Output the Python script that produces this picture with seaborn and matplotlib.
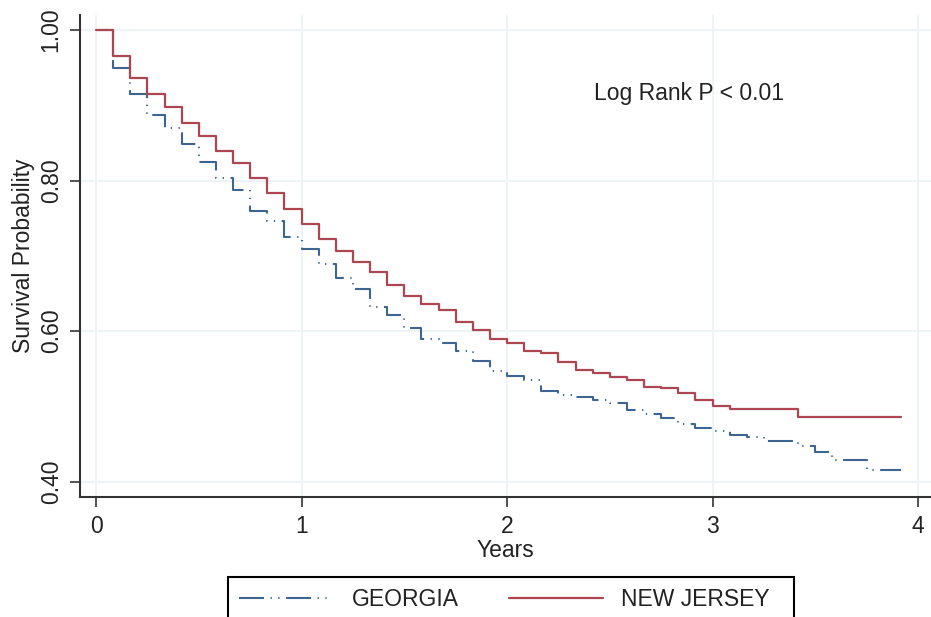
import matplotlib
matplotlib.use("Agg")
import matplotlib.pyplot as plt
import pandas as pd
import seaborn as sns

# Kaplan-Meier estimates, one value per month (0..47)
months = list(range(48))
georgia = [1.000, 0.949, 0.915, 0.887, 0.870, 0.848, 0.825, 0.804, 0.788, 0.759,
           0.746, 0.725, 0.709, 0.689, 0.670, 0.656, 0.632, 0.621, 0.604, 0.589,
           0.584, 0.573, 0.561, 0.547, 0.541, 0.535, 0.520, 0.515, 0.513, 0.508,
           0.505, 0.495, 0.490, 0.485, 0.477, 0.472, 0.467, 0.462, 0.459, 0.454,
           0.454, 0.447, 0.439, 0.429, 0.429, 0.416, 0.416, 0.416]
new_jersey = [1.000, 0.966, 0.936, 0.915, 0.898, 0.877, 0.859, 0.839, 0.823, 0.803,
              0.783, 0.762, 0.742, 0.723, 0.706, 0.692, 0.679, 0.661, 0.647, 0.636,
              0.628, 0.612, 0.602, 0.589, 0.584, 0.574, 0.571, 0.559, 0.549, 0.545,
              0.539, 0.535, 0.526, 0.524, 0.518, 0.509, 0.501, 0.497, 0.497, 0.497,
              0.497, 0.486, 0.486, 0.486, 0.486, 0.486, 0.486, 0.486]

x_ticks = [0, 1, 2, 3, 4]
y_ticks = [0.40, 0.60, 0.80, 1.00]
y_tick_labels = ['0.40', '0.60', '0.80', '1.00']
annotation = 'Log Rank P < 0.01'

BLUE = '#3c6592'
RED = '#ad4650'
INK = '#222222'

sns.set_style("white")
plt.rcParams['font.family'] = ['Liberation Sans', 'DejaVu Sans']
plt.rcParams['lines.scale_dashes'] = False
plt.rcParams['text.color'] = INK

df = pd.DataFrame({'years': [m / 12 for m in months],
                   'GEORGIA': georgia,
                   'NEW JERSEY': new_jersey})

fig = plt.figure(figsize=(9.31, 6.17), dpi=100)
ax = fig.add_axes([80 / 931, 1 - 497.3 / 617, 851 / 931, 482.3 / 617])

sns.lineplot(data=df, x='years', y='GEORGIA', ax=ax, color=BLUE, lw=1.5,
             drawstyle='steps-post', estimator=None, label='GEORGIA',
             linestyle=(0, (18, 4.7, 0.9, 4.7, 0.9, 4.7)))
sns.lineplot(data=df, x='years', y='NEW JERSEY', ax=ax, color=RED, lw=1.6,
             drawstyle='steps-post', estimator=None, label='NEW JERSEY')

ax.set_xlim(-0.078, 4.063)
ax.set_ylim(0.3793, 1.02)
ax.set_xticks(x_ticks)
ax.set_yticks(y_ticks)
ax.set_yticklabels(y_tick_labels, rotation=90, va='center')

ax.grid(True, color='#edf3f6', lw=1.3)
ax.set_axisbelow(True)
for side in ['top', 'right']:
    ax.spines[side].set_visible(False)
for side in ['left', 'bottom']:
    ax.spines[side].set_color('#333333')
    ax.spines[side].set_linewidth(1.5)
ax.tick_params(direction='out', length=7.5, width=1.2, color='#333333',
               labelsize=16.5, labelcolor=INK, pad=5,
               left=True, bottom=True)

ax.set_xlabel('Years', fontsize=16.5, labelpad=1, color=INK)
ax.set_ylabel('Survival Probability', fontsize=16.5, labelpad=3, color=INK)

ax.text(2.423, 0.916, annotation, fontsize=16.5, ha='left', va='center')

handles, labels = ax.get_legend_handles_labels()
if ax.legend_ is not None:
    ax.legend_.remove()
leg = fig.legend(handles, ['GEORGIA', 'NEW JERSEY\u00a0\u00a0'], loc='upper left',
                 bbox_to_anchor=(228 / 931, 1 - 577 / 617),
                 bbox_transform=fig.transFigure, ncol=2, frameon=True,
                 fancybox=False, edgecolor='black', framealpha=1,
                 handlelength=4.1, handletextpad=0.8, columnspacing=2.2,
                 borderpad=0.5, borderaxespad=0, fontsize=16.5)
leg.get_frame().set_linewidth(1.5)

fig.savefig('out.png', dpi=100)
